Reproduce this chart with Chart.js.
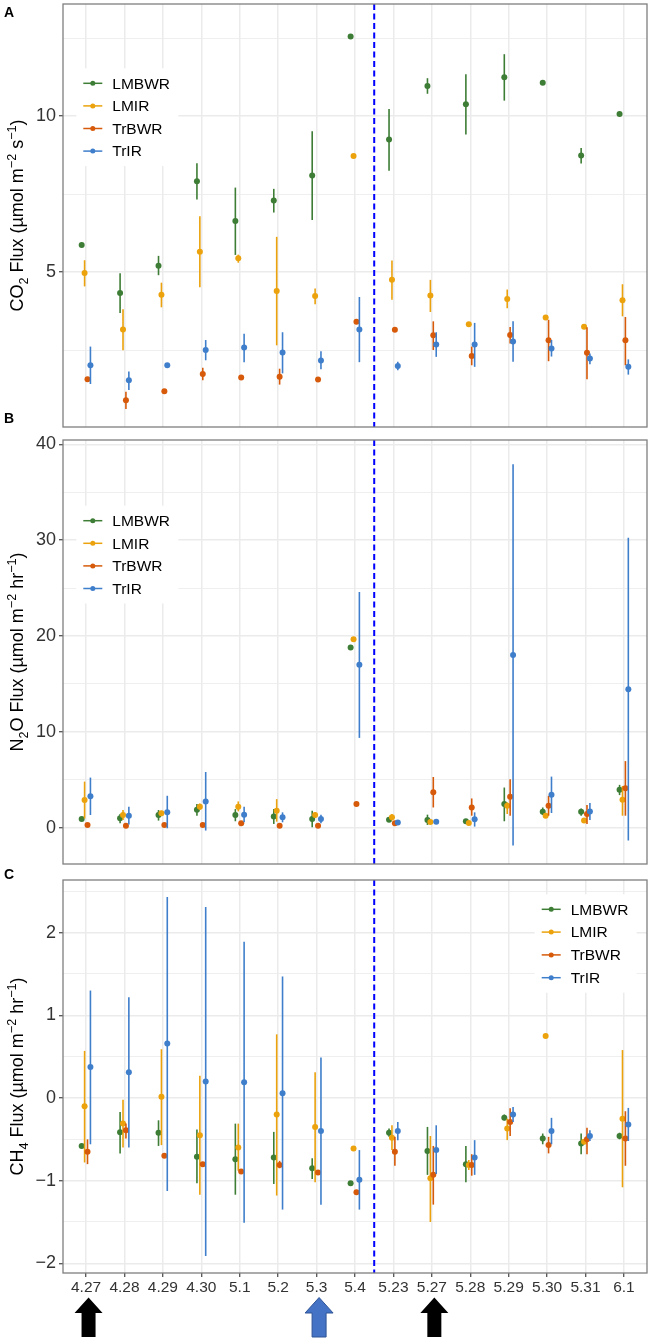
<!DOCTYPE html>
<html>
<head>
<meta charset="utf-8">
<script src="https://cdn.jsdelivr.net/npm/chart.js@4.4.1/dist/chart.umd.min.js"></script>
<style>
body { margin: 0; background: #fff; }
#wrap { position: relative; width: 652px; height: 1339px; overflow: hidden; font-family: "Liberation Sans", Arial, sans-serif; }
canvas { position: absolute; left: 0; }
.tag { position: absolute; left: 4px; font-weight: bold; font-size: 14px; line-height: 14px; color: #000; }
</style>
</head>
<body>
<div id="wrap">
  <canvas id="co2" width="652" height="431" style="top:0px"></canvas>
  <canvas id="n2o" width="652" height="436" style="top:432px"></canvas>
  <canvas id="ch4" width="652" height="471" style="top:868px"></canvas>
  <div class="tag" style="top:5px">A</div>
  <div class="tag" style="top:411px">B</div>
  <div class="tag" style="top:867px">C</div>
</div>
<script>
// Sampling dates (shared x axis)
const categories = ['4.27', '4.28', '4.29', '4.30', '5.1', '5.2', '5.3', '5.4',
                    '5.23', '5.27', '5.28', '5.29', '5.30', '5.31', '6.1'];
const seriesNames = ['LMBWR', 'LMIR', 'TrBWR', 'TrIR'];
const seriesColors = ['#3D7D35', '#EBA20C', '#D65A0A', '#3F7ECB'];
const dodge = [-0.114, -0.038, 0.038, 0.114];
const breakAfter = '5.4';
const arrowCats = ['4.27', '5.3', '5.27'];
const arrowFills = ['#000000', '#4472C4', '#000000'];

// CO2 flux (umol m-2 s-1)
const co2LMBWR   = [5.87, 4.33, 5.20, 7.91, 6.64, 7.30, 8.10, 12.56, 9.25, 10.97, 10.38, 11.25, 11.07, 8.74, 10.07];
const co2LMBWRlo = [null, 3.69, 4.90, 7.33, 5.55, 6.91, 6.67, null, 8.25, 10.72, 9.41, 10.50, null, 8.48, null];
const co2LMBWRhi = [null, 4.96, 5.52, 8.49, 7.71, 7.67, 9.52, null, 10.23, 11.22, 11.35, 11.99, null, 8.98, null];
const co2LMIR    = [4.97, 3.16, 4.27, 5.65, 5.44, 4.39, 4.23, 8.72, 4.75, 4.25, 3.33, 4.14, 3.54, 3.25, 4.10];
const co2LMIRlo  = [4.54, 2.49, 3.87, 4.51, 5.30, 2.65, 3.97, null, 4.11, 3.72, null, 3.84, null, null, 3.58];
const co2LMIRhi  = [5.38, 3.81, 4.66, 6.79, 5.56, 6.13, 4.47, null, 5.37, 4.75, null, 4.44, null, null, 4.61];
const co2TrBWR   = [1.56, 0.89, 1.18, 1.73, 1.62, 1.64, 1.55, 3.41, 3.15, 2.97, 2.31, 2.98, 2.81, 2.41, 2.81];
const co2TrBWRlo = [null, 0.61, null, 1.53, null, 1.39, null, null, null, 2.50, 2.01, 2.71, 2.14, 1.56, 2.01];
const co2TrBWRhi = [null, 1.16, null, 1.93, null, 1.90, null, null, null, 3.42, 2.61, 3.24, 3.47, 3.23, 3.56];
const co2TrIR    = [2.01, 1.53, 2.01, 2.50, 2.58, 2.42, 2.16, 3.16, 1.99, 2.68, 2.68, 2.77, 2.55, 2.23, 1.96];
const co2TrIRlo  = [1.41, 1.22, null, 2.17, 2.11, 1.75, 1.88, 2.11, 1.85, 2.28, 1.96, 2.12, 2.29, 2.04, 1.71];
const co2TrIRhi  = [2.61, 1.81, null, 2.82, 3.02, 3.07, 2.46, 4.20, 2.12, 3.07, 3.37, 3.42, 2.82, 2.39, 2.20];

// N2O flux (umol m-2 hr-1)
const n2oLMBWR   = [0.90, 0.97, 1.31, 1.87, 1.31, 1.17, 0.90, 18.79, 0.83, 0.79, 0.66, 2.45, 1.66, 1.66, 3.94];
const n2oLMBWRlo = [null, 0.45, 0.73, 1.24, 0.66, 0.38, 0.03, null, null, 0.28, null, 0.66, 1.31, 1.24, 3.39];
const n2oLMBWRhi = [null, 1.42, 1.83, 2.45, 1.93, 1.93, 1.76, null, null, 1.35, null, 4.18, 2.10, 2.00, 4.46];
const n2oLMIR    = [2.87, 1.31, 1.49, 2.18, 2.18, 1.76, 1.31, 19.65, 1.07, 0.59, 0.48, 2.28, 1.24, 0.73, 2.90];
const n2oLMIRlo  = [0.95, 0.80, 1.24, 1.83, 1.69, 0.62, 1.00, null, 0.73, null, null, 1.42, null, null, 1.24];
const n2oLMIRhi  = [4.80, 1.83, 1.76, 2.52, 2.73, 2.97, 1.59, null, 1.42, null, null, 2.63, null, null, 4.35];
const n2oTrBWR   = [0.28, 0.20, 0.28, 0.28, 0.45, 0.20, 0.20, 2.45, 0.45, 3.70, 2.10, 3.21, 2.28, 1.42, 4.11];
const n2oTrBWRlo = [null, null, null, null, null, null, null, null, null, 2.10, 1.24, 1.24, 1.24, 0.38, 1.24];
const n2oTrBWRhi = [null, null, null, null, null, null, null, null, null, 5.28, 3.04, 5.04, 3.32, 2.35, 6.94];
const n2oTrIR    = [3.28, 1.24, 1.59, 2.73, 1.35, 1.07, 0.90, 16.99, 0.52, 0.62, 0.86, 18.00, 3.42, 1.69, 14.44];
const n2oTrIRlo  = [1.31, 0.31, -0.07, -0.31, 0.55, 0.55, 0.45, 9.36, null, null, 0.10, -1.87, 1.52, 0.79, -1.35];
const n2oTrIRhi  = [5.22, 2.18, 3.32, 5.80, 2.18, 1.59, 1.35, 24.59, null, null, 1.59, 37.93, 5.32, 2.56, 30.26];

// CH4 flux (umol m-2 hr-1)
const ch4LMBWR   = [-0.58, -0.415, -0.42, -0.71, -0.74, -0.72, -0.85, -1.03, -0.42, -0.64, -0.80, -0.24, -0.49, -0.55, -0.46];
const ch4LMBWRlo = [null, -0.67, -0.58, -1.03, -1.17, -1.04, -0.98, null, -0.47, -0.93, -1.02, -0.27, -0.56, -0.68, -0.50];
const ch4LMBWRhi = [null, -0.17, -0.27, -0.38, -0.31, -0.41, -0.73, null, -0.37, -0.35, -0.58, -0.20, -0.43, -0.43, -0.42];
const ch4LMIR    = [-0.10, -0.31, 0.016, -0.45, -0.60, -0.20, -0.35, -0.61, -0.48, -0.97, -0.81, -0.37, 0.75, -0.53, -0.25];
const ch4LMIRlo  = [-0.78, -0.60, -0.57, -1.17, -0.88, -1.18, -1.02, null, -0.63, -1.50, -0.87, -0.51, null, -0.56, -1.08];
const ch4LMIRhi  = [0.57, -0.02, 0.59, 0.27, -0.31, 0.77, 0.31, null, -0.33, -0.46, -0.75, -0.25, null, -0.50, 0.58];
const ch4TrBWR   = [-0.65, -0.39, -0.70, -0.80, -0.89, -0.81, -0.90, -1.14, -0.65, -0.93, -0.81, -0.29, -0.57, -0.50, -0.49];
const ch4TrBWRlo = [-0.80, -0.49, null, null, null, -0.85, null, null, -0.82, -1.29, -0.94, -0.46, -0.67, -0.68, -0.82];
const ch4TrBWRhi = [-0.50, -0.31, null, null, null, -0.76, null, null, -0.47, -0.58, -0.68, -0.125, -0.47, -0.36, -0.16];
const ch4TrIR    = [0.375, 0.31, 0.66, 0.20, 0.19, 0.056, -0.40, -0.99, -0.40, -0.63, -0.72, -0.20, -0.40, -0.46, -0.32];
const ch4TrIRlo  = [-0.56, -0.60, -1.125, -1.91, -1.51, -1.35, -1.29, -1.35, -0.51, -0.92, -0.93, -0.29, -0.56, -0.52, -0.52];
const ch4TrIRhi  = [1.30, 1.22, 2.43, 2.31, 1.89, 1.47, 0.49, -0.63, -0.29, -0.33, -0.51, -0.11, -0.24, -0.39, -0.12];

// Axis ticks and limits
const co2Major = [5, 10];
const co2Minor = [2.5, 7.5, 12.5];
const co2Limits = [0.03, 13.6];
const n2oMajor = [0, 10, 20, 30, 40];
const n2oMinor = [5, 15, 25, 35];
const n2oLimits = [-3.8, 40.45];
const ch4Major = [-2, -1, 0, 1, 2];
const ch4Minor = [-1.5, -0.5, 0.5, 1.5, 2.5];
const ch4Limits = [-2.117, 2.637];

// Axis titles: [text, 0 normal / -1 subscript / 1 superscript]
const co2Title = [['CO', 0], ['2', -1], [' Flux (µmol m', 0], ['−2', 1], [' s', 0], ['−1', 1], [')', 0]];
const n2oTitle = [['N', 0], ['2', -1], ['O Flux (µmol m', 0], ['−2', 1], [' hr', 0], ['−1', 1], [')', 0]];
const ch4Title = [['CH', 0], ['4', -1], [' Flux (µmol m', 0], ['−2', 1], [' hr', 0], ['−1', 1], [')', 0]];

const FAM = '"Liberation Sans", Arial, sans-serif';
Chart.defaults.font.family = FAM;

function fmtTick(v) {
    return v < 0 ? '−' + Math.abs(v) : String(v);
}

// Build one scatter dataset per series, dodged around each date
function makeSets(means, los, his) {
    return seriesNames.map((name, s) => ({
        label: name,
        data: means[s].map((v, i) => ({ x: i + dodge[s], y: v })),
        errLo: los[s],
        errHi: his[s],
        backgroundColor: seriesColors[s],
        borderColor: seriesColors[s],
        borderWidth: 0,
        pointRadius: 3,
        pointBorderWidth: 0,
        order: 3 - s
    }));
}

// Vertical error bars, drawn just before each series' points
const errorBars = {
    id: 'errorBars',
    beforeDatasetDraw(chart, args) {
        const ds = chart.data.datasets[args.index];
        const y = chart.scales.y;
        const ctx = chart.ctx;
        const a = chart.chartArea;
        ctx.save();
        ctx.beginPath();
        ctx.rect(a.left, a.top, a.right - a.left, a.bottom - a.top);
        ctx.clip();
        ctx.strokeStyle = ds.borderColor;
        ctx.lineWidth = 1.6;
        args.meta.data.forEach((pt, i) => {
            const lo = ds.errLo[i], hi = ds.errHi[i];
            if (lo == null || hi == null) return;
            ctx.beginPath();
            ctx.moveTo(pt.x, y.getPixelForValue(lo));
            ctx.lineTo(pt.x, y.getPixelForValue(hi));
            ctx.stroke();
        });
        ctx.restore();
    }
};

function drawRich(ctx, segs, cx, cy, size) {
    ctx.save();
    ctx.translate(cx, cy);
    ctx.rotate(-Math.PI / 2);
    ctx.textBaseline = 'alphabetic';
    ctx.textAlign = 'left';
    ctx.fillStyle = '#000';
    const parts = segs.map(([t, k]) => {
        const fs = k ? size * 0.7 : size;
        ctx.font = fs + 'px ' + FAM;
        return { t, k, fs, w: ctx.measureText(t).width };
    });
    const total = parts.reduce((s, p) => s + p.w, 0);
    let xx = -total / 2;
    const base = 0.36 * size;
    parts.forEach(p => {
        ctx.font = p.fs + 'px ' + FAM;
        const dy = p.k > 0 ? -0.42 * size : (p.k < 0 ? 0.24 * size : 0);
        ctx.fillText(p.t, xx, base + dy);
        xx += p.w;
    });
    ctx.restore();
}

// Break line, panel border, legend, axis title, arrows
const decor = {
    id: 'decor',
    afterDatasetsDraw(chart) {
        const { ctx, chartArea: a } = chart;
        const px = chart.scales.x.getPixelForValue(categories.indexOf(breakAfter) + 0.5);
        ctx.save();
        ctx.strokeStyle = '#0000FF';
        ctx.lineWidth = 2;
        ctx.setLineDash([6, 3.5]);
        ctx.beginPath();
        ctx.moveTo(px, a.top);
        ctx.lineTo(px, a.bottom);
        ctx.stroke();
        ctx.restore();
    },
    afterDraw(chart, args, o) {
        const { ctx, chartArea: a } = chart;
        ctx.save();
        ctx.strokeStyle = '#7F7F7F';
        ctx.lineWidth = 1.3;
        ctx.strokeRect(a.left, a.top, a.right - a.left, a.bottom - a.top);

        // legend
        const lg = o.legend;
        ctx.fillStyle = '#fff';
        ctx.fillRect(lg.x - 7, lg.y - 15, 102, lg.gap * 3 + 30);
        seriesNames.forEach((name, s) => {
            const yy = lg.y + s * lg.gap;
            ctx.strokeStyle = seriesColors[s];
            ctx.lineWidth = 1.5;
            ctx.beginPath();
            ctx.moveTo(lg.x, yy);
            ctx.lineTo(lg.x + 19, yy);
            ctx.stroke();
            ctx.fillStyle = seriesColors[s];
            ctx.beginPath();
            ctx.arc(lg.x + 9.5, yy, 2.5, 0, Math.PI * 2);
            ctx.fill();
            ctx.fillStyle = '#000';
            ctx.font = '15.5px ' + FAM;
            ctx.textBaseline = 'middle';
            ctx.textAlign = 'left';
            ctx.fillText(name, lg.x + 29, yy + 1);
        });
        ctx.restore();

        drawRich(ctx, o.title, 16.7, (a.top + a.bottom) / 2, 18);

        if (o.arrows) {
            const x = chart.scales.x;
            arrowCats.forEach((c, k) => {
                const cx = x.getPixelForValue(categories.indexOf(c)) + 2.5;
                const top = a.bottom + 24.5, neck = a.bottom + 40, end = a.bottom + 64;
                ctx.save();
                ctx.fillStyle = arrowFills[k];
                ctx.beginPath();
                ctx.moveTo(cx, top);
                ctx.lineTo(cx + 14, neck);
                ctx.lineTo(cx + 7, neck);
                ctx.lineTo(cx + 7, end);
                ctx.lineTo(cx - 7, end);
                ctx.lineTo(cx - 7, neck);
                ctx.lineTo(cx - 14, neck);
                ctx.closePath();
                ctx.fill();
                if (arrowFills[k] !== '#000000') {
                    ctx.strokeStyle = '#2F5597';
                    ctx.lineWidth = 1;
                    ctx.stroke();
                }
                ctx.restore();
            });
        }
    }
};

function panel(id, sets, cfg) {
    const all = cfg.major.concat(cfg.minor);
    const isMajor = v => cfg.major.includes(v);
    return new Chart(document.getElementById(id), {
        type: 'scatter',
        data: { datasets: sets },
        options: {
            responsive: false,
            animation: false,
            events: [],
            layout: { padding: cfg.pad },
            plugins: {
                legend: { display: false },
                tooltip: { enabled: false },
                decor: { legend: cfg.legend, title: cfg.title, arrows: cfg.arrows }
            },
            scales: {
                x: {
                    type: 'linear',
                    min: -0.6,
                    max: 14.6,
                    afterBuildTicks: ax => { ax.ticks = categories.map((c, i) => ({ value: i })); },
                    afterFit: s => { s.height = cfg.xHeight; s.paddingLeft = 0; s.paddingRight = 0; },
                    border: { display: false },
                    grid: { color: '#EBEBEB', lineWidth: 1.5, drawTicks: cfg.arrows, tickLength: 4, tickColor: '#333', tickWidth: 1.1 },
                    ticks: {
                        display: cfg.arrows,
                        autoSkip: false,
                        maxRotation: 0,
                        padding: 1,
                        color: '#333',
                        font: { size: 15.5 },
                        callback: v => categories[v]
                    }
                },
                y: {
                    min: cfg.limits[0],
                    max: cfg.limits[1],
                    afterBuildTicks: ax => { ax.ticks = all.map(v => ({ value: v })); },
                    afterFit: s => { s.width = 63; s.paddingTop = 0; s.paddingBottom = 0; },
                    border: { display: false },
                    grid: {
                        color: '#EBEBEB',
                        lineWidth: c => (c.tick && isMajor(c.tick.value)) ? 1.5 : 0.8,
                        tickLength: 4,
                        tickColor: c => (c.tick && isMajor(c.tick.value)) ? '#333' : 'rgba(0,0,0,0)',
                        tickWidth: 1.1
                    },
                    ticks: {
                        autoSkip: false,
                        padding: 3,
                        color: '#333',
                        font: { size: 18 },
                        callback: v => isMajor(v) ? fmtTick(v) : ''
                    }
                }
            }
        },
        plugins: [errorBars, decor]
    });
}

panel('co2',
    makeSets([co2LMBWR, co2LMIR, co2TrBWR, co2TrIR],
             [co2LMBWRlo, co2LMIRlo, co2TrBWRlo, co2TrIRlo],
             [co2LMBWRhi, co2LMIRhi, co2TrBWRhi, co2TrIRhi]),
    { pad: { left: 0, right: 5, top: 3, bottom: 1 }, xHeight: 0, arrows: false,
      major: co2Major, minor: co2Minor, limits: co2Limits, title: co2Title,
      legend: { x: 83.3, y: 83.3, gap: 22.6 } });

panel('n2o',
    makeSets([n2oLMBWR, n2oLMIR, n2oTrBWR, n2oTrIR],
             [n2oLMBWRlo, n2oLMIRlo, n2oTrBWRlo, n2oTrIRlo],
             [n2oLMBWRhi, n2oLMIRhi, n2oTrBWRhi, n2oTrIRhi]),
    { pad: { left: 0, right: 5, top: 8, bottom: 1 }, xHeight: 0, arrows: false,
      major: n2oMajor, minor: n2oMinor, limits: n2oLimits, title: n2oTitle,
      legend: { x: 83.3, y: 88.7, gap: 22.6 } });

panel('ch4',
    makeSets([ch4LMBWR, ch4LMIR, ch4TrBWR, ch4TrIR],
             [ch4LMBWRlo, ch4LMIRlo, ch4TrBWRlo, ch4TrIRlo],
             [ch4LMBWRhi, ch4LMIRhi, ch4TrBWRhi, ch4TrIRhi]),
    { pad: { left: 0, right: 5, top: 12, bottom: 0 }, xHeight: 66, arrows: true,
      major: ch4Major, minor: ch4Minor, limits: ch4Limits, title: ch4Title,
      legend: { x: 541.7, y: 41.3, gap: 22.8 } });
</script>
</body>
</html>
